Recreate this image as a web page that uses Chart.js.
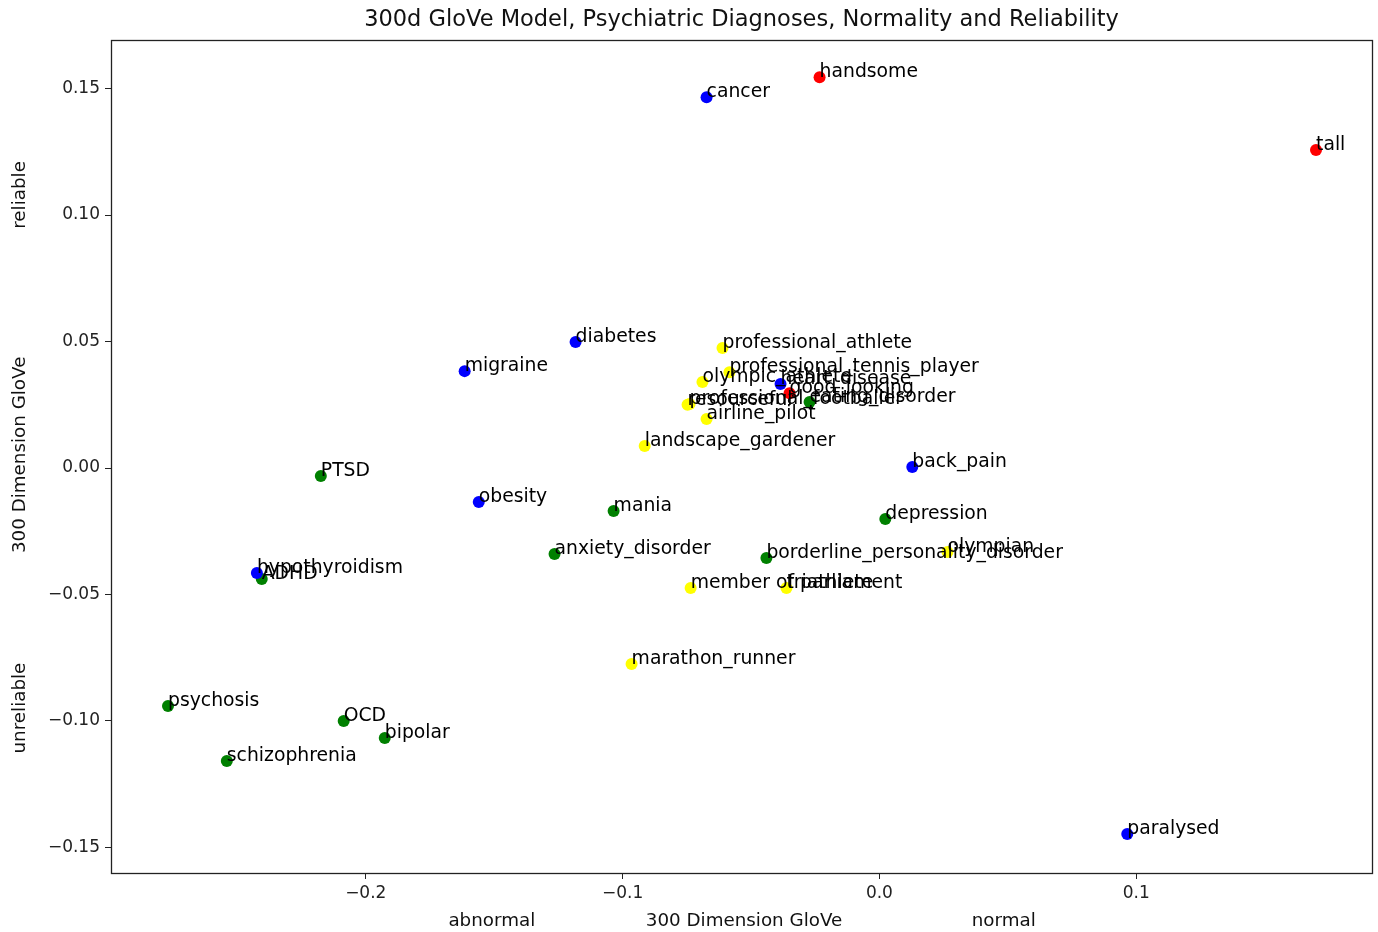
<!DOCTYPE html>
<html>
<head>
<meta charset="utf-8">
<script src="https://cdn.jsdelivr.net/npm/chart.js@4.4.1/dist/chart.umd.min.js"></script>
<style>
  body { margin: 0; background: #fff; }
  #wrap { width: 1378px; height: 932px; }
</style>
</head>
<body>
<div id="wrap"><canvas id="glove" width="1378" height="932"></canvas></div>
<script>
// words and their 2d coordinates, grouped by colour
var redWords = ['handsome', 'tall', 'good_looking'];
var redX = [-0.0233, 0.1700, -0.0350];
var redY = [0.1545, 0.1257, 0.0296];

var blueWords = ['cancer', 'diabetes', 'migraine', 'heart_disease', 'back_pain', 'obesity', 'hypothyroidism', 'paralysed'];
var blueX = [-0.0673, -0.1183, -0.1615, -0.0385, 0.0128, -0.1560, -0.2424, 0.0965];
var blueY = [0.1466, 0.0498, 0.0383, 0.0332, 0.0004, -0.0134, -0.0415, -0.1447];

var greenWords = ['eating_disorder', 'PTSD', 'mania', 'depression', 'anxiety_disorder', 'borderline_personality_disorder', 'ADHD', 'psychosis', 'OCD', 'bipolar', 'schizophrenia'];
var greenX = [-0.0272, -0.2175, -0.1035, 0.0023, -0.1265, -0.0440, -0.2405, -0.2770, -0.2086, -0.1926, -0.2541];
var greenY = [0.0261, -0.0032, -0.0170, -0.0202, -0.0340, -0.0356, -0.0439, -0.0941, -0.1000, -0.1067, -0.1158];

var yellowWords = ['professional_athlete', 'professional_tennis_player', 'olympic_athlete', 'resourceful', 'professional_footballer', 'airline_pilot', 'landscape_gardener', 'olympian', 'member of parliament', 'triathlete', 'marathon_runner'];
var yellowX = [-0.0611, -0.0584, -0.0689, -0.0747, -0.0739, -0.0673, -0.0914, 0.0265, -0.0735, -0.0362, -0.0965];
var yellowY = [0.0474, 0.0379, 0.0340, 0.0250, 0.0253, 0.0194, 0.0087, -0.0332, -0.0474, -0.0474, -0.0775];

var xTicks = [-0.2, -0.1, 0.0, 0.1];
var yTicks = [-0.15, -0.10, -0.05, 0.00, 0.05, 0.10, 0.15];

function pts(xs, ys) {
    return xs.map(function(x, i) { return {x: x, y: ys[i]}; });
}
function minus(s) { return s.replace('-', '\u2212'); }

var FONT = 'DejaVu Sans';

var wordLabels = {
    id: 'wordLabels',
    afterDatasetsDraw: function(chart) {
        var ctx = chart.ctx;
        ctx.save();
        ctx.font = '18.8px "' + FONT + '"';
        ctx.fillStyle = '#000';
        ctx.textAlign = 'left';
        ctx.textBaseline = 'alphabetic';
        chart.data.datasets.forEach(function(ds, i) {
            var meta = chart.getDatasetMeta(i);
            meta.data.forEach(function(el, j) {
                ctx.fillText(ds.words[j], el.x, el.y);
            });
        });
        ctx.restore();
    }
};

var frame = {
    id: 'frame',
    afterDraw: function(chart) {
        var ctx = chart.ctx, a = chart.chartArea;
        ctx.save();
        ctx.strokeStyle = '#222';
        ctx.lineWidth = 1.3;
        ctx.strokeRect(Math.round(a.left) + 0.5, Math.round(a.top) + 0.5, Math.round(a.right - a.left), Math.round(a.bottom - a.top));

        ctx.fillStyle = '#111';
        ctx.textAlign = 'center';
        ctx.textBaseline = 'middle';
        ctx.font = '22.5px "' + FONT + '"';
        ctx.fillText('300d GloVe Model, Psychiatric Diagnoses, Normality and Reliability', (a.left + a.right) / 2, 20);

        // x axis title pieces
        ctx.font = '18.3px "' + FONT + '"';
        var w = a.right - a.left;
        ctx.fillText('abnormal', a.left + w * 0.302, 921);
        ctx.fillText('300 Dimension GloVe', a.left + w * 0.502, 921);
        ctx.fillText('normal', a.left + w * 0.708, 921);

        // y axis title pieces
        var h = a.bottom - a.top;
        [['reliable', 0.186], ['300 Dimension GloVe', 0.498], ['unreliable', 0.802]].forEach(function(p) {
            ctx.save();
            ctx.translate(20, a.top + h * p[1]);
            ctx.rotate(-Math.PI / 2);
            ctx.fillText(p[0], 0, 0);
            ctx.restore();
        });
        ctx.restore();
    }
};

var ctx = document.getElementById('glove').getContext('2d');
var chart = new Chart(ctx, {
    type: 'scatter',
    data: {
        datasets: [
            { words: redWords, data: pts(redX, redY), backgroundColor: 'red' },
            { words: blueWords, data: pts(blueX, blueY), backgroundColor: 'blue' },
            { words: greenWords, data: pts(greenX, greenY), backgroundColor: 'green' },
            { words: yellowWords, data: pts(yellowX, yellowY), backgroundColor: 'yellow' }
        ]
    },
    options: {
        responsive: false,
        animation: false,
        elements: { point: { radius: 6, borderWidth: 0, hoverRadius: 6 } },
        layout: { padding: { top: 40, right: 5, left: 0, bottom: 0 } },
        plugins: { legend: { display: false }, tooltip: { enabled: false } },
        scales: {
            x: {
                type: 'linear',
                min: -0.2992,
                max: 0.1918,
                afterBuildTicks: function(scale) { scale.ticks = xTicks.map(function(v) { return {value: v}; }); },
                afterFit: function(scale) { scale.height = 59; },
                grid: { display: true, drawOnChartArea: false, drawTicks: true, tickLength: 6, color: '#222' },
                border: { display: true, color: '#222' },
                ticks: {
                    padding: 4,
                    color: '#222',
                    font: { family: FONT, size: 17 },
                    callback: function(v) { return minus(v.toFixed(1)); }
                }
            },
            y: {
                type: 'linear',
                min: -0.1601,
                max: 0.1692,
                afterBuildTicks: function(scale) { scale.ticks = yTicks.map(function(v) { return {value: v}; }); },
                afterFit: function(scale) { scale.width = 111; },
                grid: { display: true, drawOnChartArea: false, drawTicks: true, tickLength: 6, color: '#222' },
                border: { display: true, color: '#222' },
                ticks: {
                    padding: 5,
                    color: '#222',
                    font: { family: FONT, size: 17 },
                    callback: function(v) { return minus(v.toFixed(2)); }
                }
            }
        }
    },
    plugins: [wordLabels, frame]
});
</script>
</body>
</html>
